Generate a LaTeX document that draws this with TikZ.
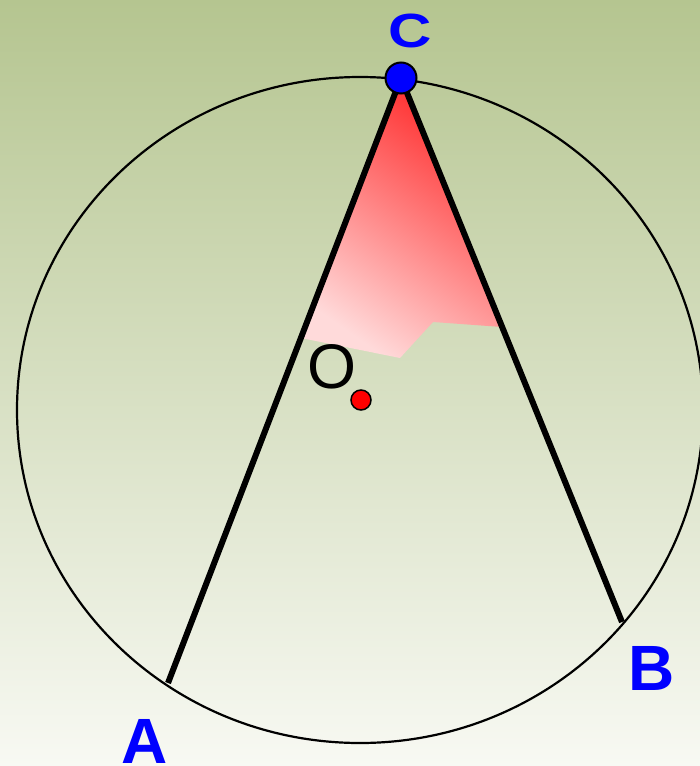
\documentclass[tikz,border=0pt]{standalone}
\usepackage{fontspec}
\setmainfont{Liberation Sans}
\usetikzlibrary{positioning}
\definecolor{bgtop}{RGB}{181,197,144}
\definecolor{bgbot}{RGB}{248,249,243}
\definecolor{angtop}{RGB}{255,40,40}
\definecolor{angmid}{RGB}{255,100,100}
\definecolor{angbot}{RGB}{255,218,218}
\tikzset{
  chord/.style={line width=6pt},
  rim/.style={line width=2.2pt},
  vertexdot/.style={circle, draw=black, line width=2pt, fill=blue, minimum size=31pt, inner sep=0pt},
  centredot/.style={circle, draw=black, line width=1.5pt, fill=red, minimum size=20pt, inner sep=0pt},
  ptlabel/.style={text=blue, inner sep=0pt, font=\bfseries\fontsize{64}{64}\selectfont}
}
\begin{document}
\begin{tikzpicture}[x=1pt, y=-1pt]
  \useasboundingbox (0,0) rectangle (700,766);
  \clip (0,0) rectangle (700,766);
  \shade[top color=bgtop, bottom color=bgbot] (0,0) rectangle (700,766);

  \coordinate (C) at (401,78);
  \coordinate (A) at (168,683);
  \coordinate (B) at (622,622);
  \coordinate (O) at (360,410);

  % inscribed angle at C
  \shade[top color=angtop, middle color=angmid, bottom color=angbot, shading angle=-35]
    (C) -- (301,338) -- (400,358) -- (433,322) -- (502,327) -- cycle;

  \draw[rim] (O) ellipse [x radius=343pt, y radius=333pt];
  \draw[chord] (C) -- (A);
  \draw[chord] (C) -- (B);

  \node[centredot] (Odot) at (361,400) {};
  \node[vertexdot] (Cdot) at (C) {};

  \node[ptlabel, font=\bfseries\fontsize{48}{48}\selectfont, xscale=1.25] (Clab) at (410,31) {C};
  \node[ptlabel] (Alab) at (145,741) {A};
  \node[ptlabel] (Blab) at (652,668) {B};
  \node[inner sep=0pt, font=\fontsize{63}{63}\selectfont] (Olab) at (332,367) {O};
\end{tikzpicture}
\end{document}
